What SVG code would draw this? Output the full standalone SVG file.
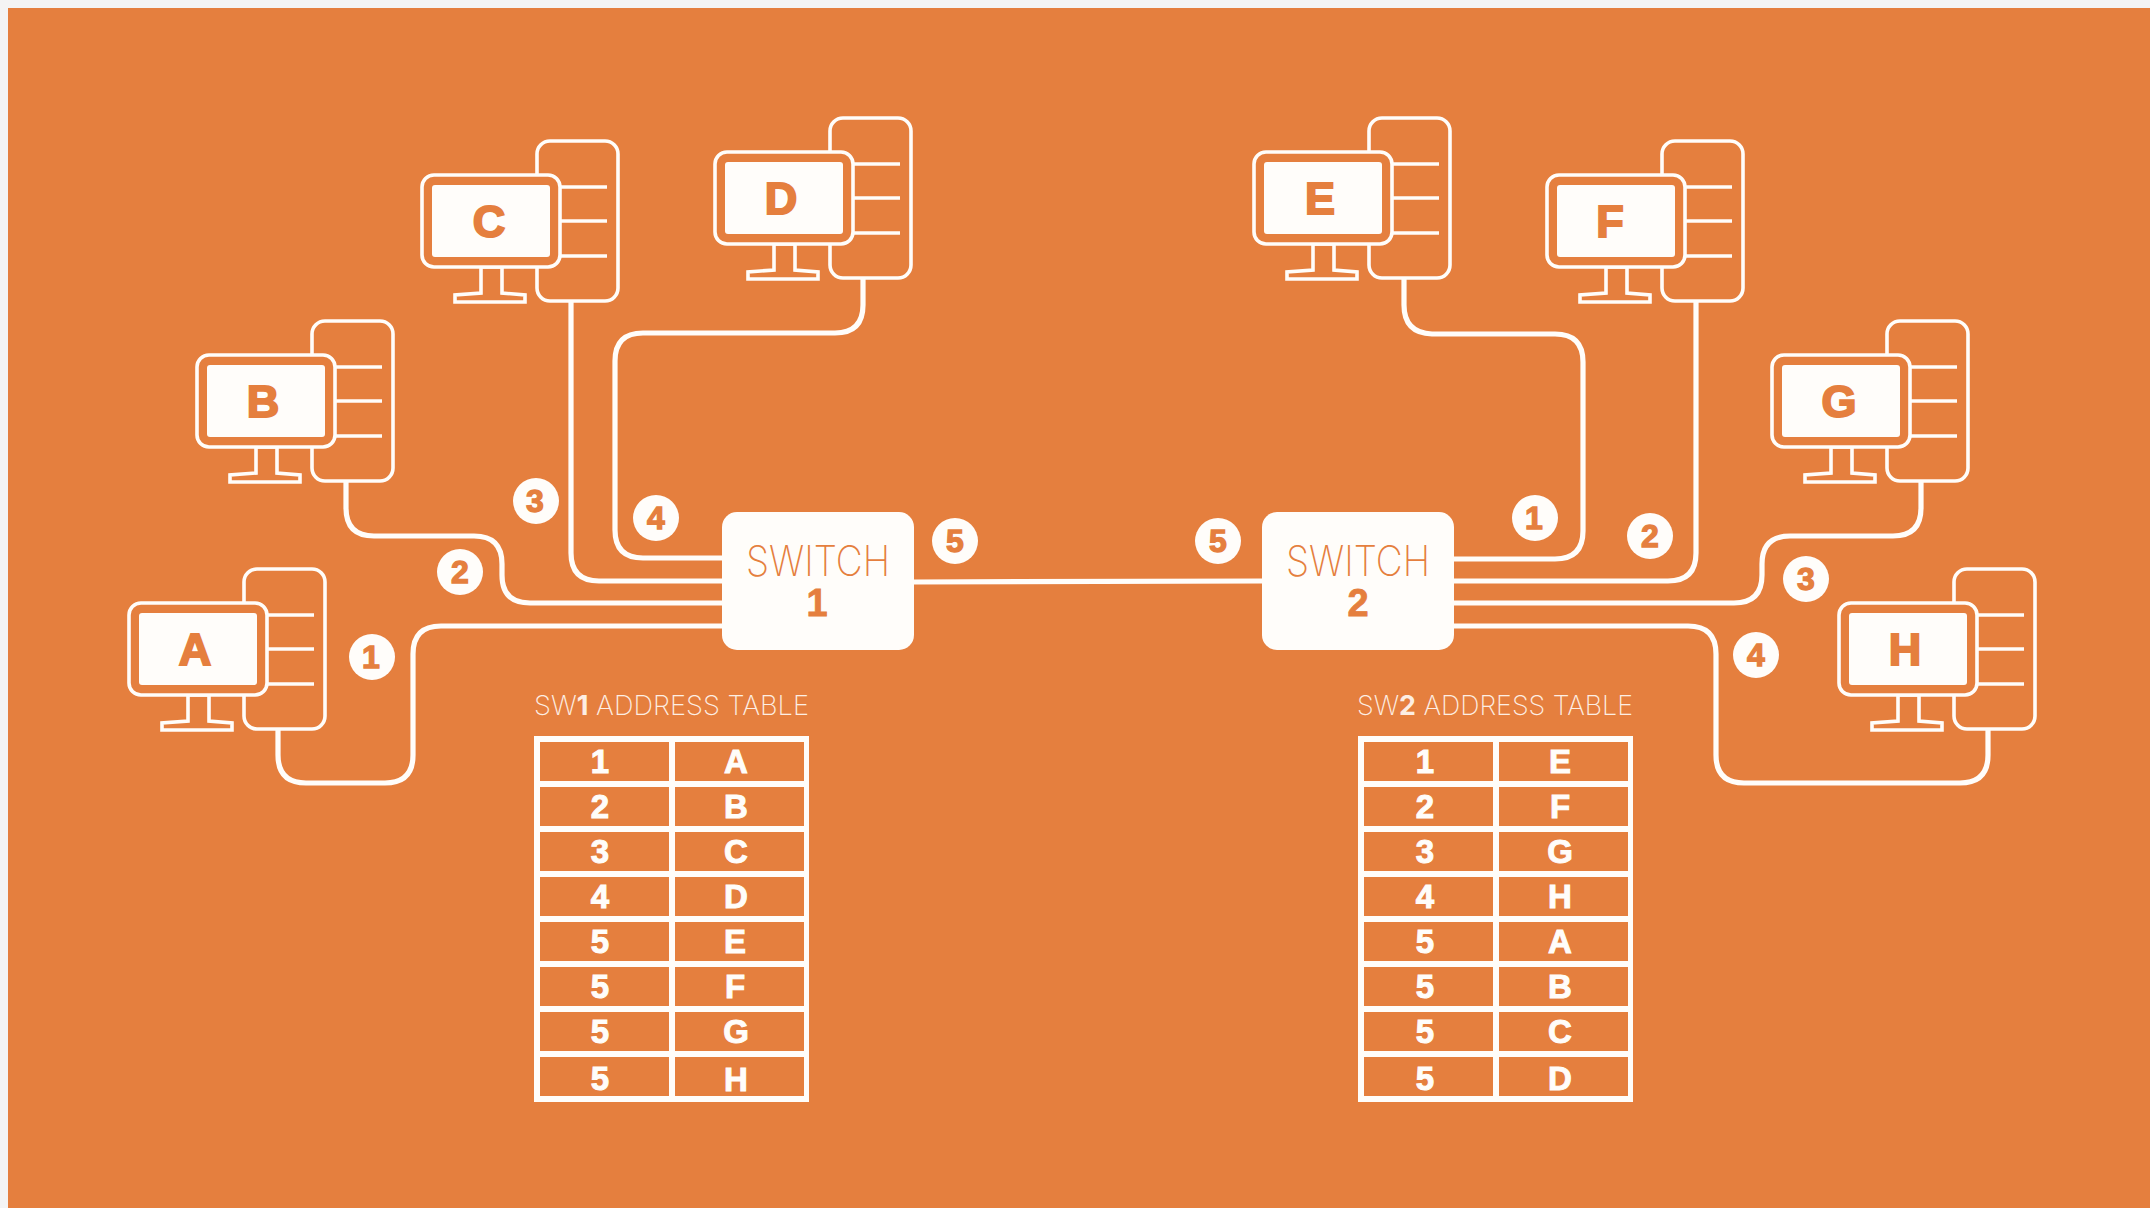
<svg xmlns="http://www.w3.org/2000/svg" width="2150" height="1208" viewBox="0 0 2150 1208">
<defs>
<style>
.w{fill:none;stroke:#fffdfa;stroke-width:5.2;stroke-linejoin:round}
.t{fill:#e57f3e;stroke:#fffdfa;stroke-width:3.6}
.l{fill:none;stroke:#fffdfa;stroke-width:3.4}
.s{fill:#fffdfa}
.o{fill:#e57f3e}
.let{font-family:"Liberation Sans",Arial,sans-serif;font-weight:700;font-size:45px;fill:#e57f3e;stroke:#e57f3e;stroke-width:2;text-anchor:middle}
.num{font-family:"Liberation Sans",Arial,sans-serif;font-weight:700;font-size:32px;fill:#e57f3e;stroke:#e57f3e;stroke-width:1.3;text-anchor:middle}
.cell{font-family:"Liberation Sans",Arial,sans-serif;font-weight:700;font-size:33px;fill:#fffdfa;stroke:#fffdfa;stroke-width:1;text-anchor:middle}
.ttl{font-family:Inter,"Liberation Sans",sans-serif;font-weight:200;font-size:27px;fill:#fdeee3}
.sw{font-family:Inter,"Liberation Sans",sans-serif;font-weight:200;font-size:42px;fill:#e57f3e;text-anchor:middle}
.swn{font-family:"Liberation Sans",Arial,sans-serif;font-weight:700;font-size:38px;fill:#e57f3e;stroke:#e57f3e;stroke-width:.8;text-anchor:middle}
</style>
<g id="pc">
<rect class="t" x="115" y="-34" width="81" height="160" rx="13"/>
<path class="l" d="M130 12H185M130 46H185M130 81H185"/>
<path class="t" d="M59 92V118L33 120V127H103V120L80 118V92Z"/>
<rect class="t" x="0" y="0" width="138" height="92" rx="12"/>
<rect class="s" x="10" y="10" width="118" height="72" rx="3"/>
</g>
<g id="tbl">
<rect class="s" x="0" y="0" width="275" height="366"/>
<g class="o">
<rect x="6" y="6" width="129" height="39"/><rect x="141" y="6" width="129" height="39"/>
<rect x="6" y="51" width="129" height="39"/><rect x="141" y="51" width="129" height="39"/>
<rect x="6" y="96" width="129" height="39"/><rect x="141" y="96" width="129" height="39"/>
<rect x="6" y="141" width="129" height="39"/><rect x="141" y="141" width="129" height="39"/>
<rect x="6" y="186" width="129" height="39"/><rect x="141" y="186" width="129" height="39"/>
<rect x="6" y="231" width="129" height="39"/><rect x="141" y="231" width="129" height="39"/>
<rect x="6" y="276" width="129" height="39"/><rect x="141" y="276" width="129" height="39"/>
<rect x="6" y="321" width="129" height="39"/><rect x="141" y="321" width="129" height="39"/>
</g>
</g>
</defs>
<rect width="2150" height="1208" fill="#f4f4f4"/>
<rect x="8" y="8" width="2142" height="1200" fill="#e57f3e"/>
<g id="connectors">
<path class="w" d="M278 730V755Q278 783 306 783H385Q413 783 413 755V654Q413 626 441 626H722"/>
<path class="w" d="M346 482V508Q346 536 374 536H474Q502 536 502 564V575Q502 603 530 603H722"/>
<path class="w" d="M571 302V553Q571 581 599 581H722"/>
<path class="w" d="M863 279V305Q863 333 835 333H643Q615 333 615 361V530Q615 558 643 558H722"/>
<path class="w" d="M914 582L1262 581"/>
<path class="w" d="M1404 279V305Q1404 333 1432 334H1555Q1583 334 1583 362V531Q1583 559 1555 559H1454"/>
<path class="w" d="M1696 302V553Q1696 581 1668 581H1454"/>
<path class="w" d="M1921 482V508Q1921 536 1893 536H1790Q1762 536 1762 564V575Q1762 603 1734 603H1454"/>
<path class="w" d="M1988 730V755Q1988 783 1960 783H1744Q1716 783 1716 755V654Q1716 626 1688 626H1454"/>
</g>
<g id="node-a"><use href="#pc" x="129" y="603"/><text class="let" x="195" y="665">A</text></g>
<g id="node-b"><use href="#pc" x="197" y="355"/><text class="let" x="263" y="417">B</text></g>
<g id="node-c"><use href="#pc" x="422" y="175"/><text class="let" x="489" y="237">C</text></g>
<g id="node-d"><use href="#pc" x="715" y="152"/><text class="let" x="781" y="214">D</text></g>
<g id="node-e"><use href="#pc" x="1254" y="152"/><text class="let" x="1320" y="214">E</text></g>
<g id="node-f"><use href="#pc" x="1547" y="175"/><text class="let" x="1610" y="237">F</text></g>
<g id="node-g"><use href="#pc" x="1772" y="355"/><text class="let" x="1839" y="417">G</text></g>
<g id="node-h"><use href="#pc" x="1839" y="603"/><text class="let" x="1905" y="665">H</text></g>
<g id="switch-1"><rect class="s" x="722" y="512" width="192" height="138" rx="15"/><text class="sw" x="818" y="576" textLength="144" lengthAdjust="spacingAndGlyphs">SWITCH</text><text class="swn" x="817" y="616">1</text></g>
<g id="switch-2"><rect class="s" x="1262" y="512" width="192" height="138" rx="15"/><text class="sw" x="1358" y="576" textLength="144" lengthAdjust="spacingAndGlyphs">SWITCH</text><text class="swn" x="1358" y="616">2</text></g>
<g id="badges">
<circle class="s" cx="372" cy="657" r="23"/><text class="num" x="371" y="668">1</text>
<circle class="s" cx="460" cy="572" r="23"/><text class="num" x="460" y="583">2</text>
<circle class="s" cx="536" cy="501" r="23"/><text class="num" x="535" y="512">3</text>
<circle class="s" cx="656" cy="518" r="23"/><text class="num" x="656" y="529">4</text>
<circle class="s" cx="955" cy="541" r="23"/><text class="num" x="955" y="552">5</text>
<circle class="s" cx="1218" cy="541" r="23"/><text class="num" x="1218" y="552">5</text>
<circle class="s" cx="1535" cy="518" r="23"/><text class="num" x="1534" y="529">1</text>
<circle class="s" cx="1650" cy="536" r="23"/><text class="num" x="1650" y="547">2</text>
<circle class="s" cx="1806" cy="579" r="23"/><text class="num" x="1806" y="590">3</text>
<circle class="s" cx="1756" cy="655" r="23"/><text class="num" x="1756" y="666">4</text>
</g>
<g id="table-1">
<text class="ttl" x="534" y="715" textLength="275" lengthAdjust="spacingAndGlyphs">SW<tspan font-weight="700">1</tspan> ADDRESS TABLE</text>
<use href="#tbl" x="534" y="736"/>
<g class="cell"><text x="600" y="773">1</text><text x="600" y="818">2</text><text x="600" y="863">3</text><text x="600" y="908">4</text><text x="600" y="953">5</text><text x="600" y="998">5</text><text x="600" y="1043">5</text><text x="600" y="1090">5</text>
<text x="736" y="773">A</text><text x="736" y="818">B</text><text x="736" y="863">C</text><text x="736" y="908">D</text><text x="735" y="953">E</text><text x="735" y="998">F</text><text x="736" y="1043">G</text><text x="736" y="1091">H</text></g>
</g>
<g id="table-2">
<text class="ttl" x="1357" y="715" textLength="276" lengthAdjust="spacingAndGlyphs">SW<tspan font-weight="700">2</tspan> ADDRESS TABLE</text>
<use href="#tbl" x="1358" y="736"/>
<g class="cell"><text x="1425" y="773">1</text><text x="1425" y="818">2</text><text x="1425" y="863">3</text><text x="1425" y="908">4</text><text x="1425" y="953">5</text><text x="1425" y="998">5</text><text x="1425" y="1043">5</text><text x="1425" y="1090">5</text>
<text x="1560" y="773">E</text><text x="1560" y="818">F</text><text x="1560" y="863">G</text><text x="1560" y="908">H</text><text x="1560" y="953">A</text><text x="1560" y="998">B</text><text x="1560" y="1043">C</text><text x="1560" y="1090">D</text></g>
</g>
</svg>
